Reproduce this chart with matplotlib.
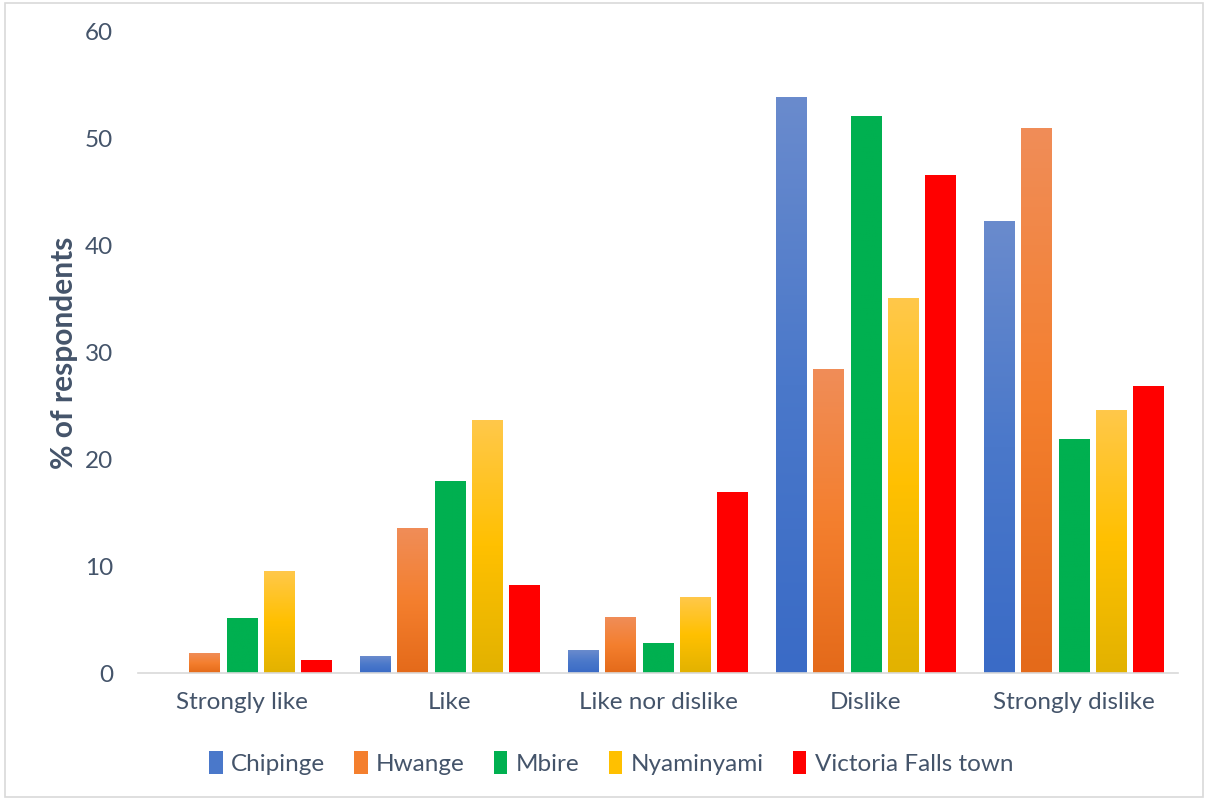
import numpy as np
import matplotlib
matplotlib.use("Agg")
import matplotlib.pyplot as plt
from matplotlib.colors import LinearSegmentedColormap
from matplotlib.patches import Rectangle, Patch

plt.rcParams['font.family'] = ['Lato', 'DejaVu Sans']

categories = ['Strongly like', 'Like', 'Like nor dislike', 'Dislike', 'Strongly dislike']
districts = ['Chipinge', 'Hwange', 'Mbire', 'Nyaminyami', 'Victoria Falls town']

chipinge = [0.0, 1.5, 2.1, 53.9, 42.3]
hwange = [1.8, 13.5, 5.2, 28.4, 51.0]
mbire = [5.1, 17.9, 2.8, 52.1, 21.9]
nyaminyami = [9.5, 23.6, 7.1, 35.1, 24.6]
victoria_falls = [1.2, 8.2, 16.9, 46.6, 26.8]
series = [chipinge, hwange, mbire, nyaminyami, victoria_falls]

# gradient stops, bottom -> middle -> top
fills = [
    ['#3a6bc6', '#4a78ca', '#6a8bcd'],
    ['#e46a1a', '#f47f2e', '#f08d58'],
    ['#00b050', '#00b050', '#00b050'],
    ['#e2b200', '#ffc000', '#ffc84a'],
    ['#ff0000', '#ff0000', '#ff0000'],
]
txt = '#44546a'

fig = plt.figure(figsize=(12.08, 8), dpi=100)
ax = fig.add_axes([138 / 1208, 1 - 673 / 800, 1040 / 1208, 641 / 800])

x = np.arange(len(categories))
step = 0.178
width = 0.149
grad = np.linspace(0, 1, 256).reshape(-1, 1)

handles = []
for i, (vals, cols) in enumerate(zip(series, fills)):
    cmap = LinearSegmentedColormap.from_list('g%d' % i, cols)
    for xc, v in zip(x, vals):
        left = xc + (i - 2) * step - width / 2
        if v <= 0:
            continue
        ax.imshow(grad, cmap=cmap, origin='lower', aspect='auto',
                  extent=[left, left + width, 0, v], zorder=2)
    handles.append(Patch(facecolor=cols[1], edgecolor='none', label=districts[i]))

ax.set_xlim(-0.5, 4.5)
ax.set_ylim(0, 60)
ax.set_yticks(range(0, 61, 10))
ax.set_xticks(x)
ax.set_xticklabels(categories)
ax.tick_params(axis='both', length=0, labelsize=17.5, colors=txt)
ax.tick_params(axis='y', pad=18)
ax.tick_params(axis='x', pad=14)
for s in ['top', 'right', 'left']:
    ax.spines[s].set_visible(False)
ax.spines['bottom'].set_color('#d9d9d9')
ax.spines['bottom'].set_linewidth(1.2)

ax.set_ylabel('% of respondents', fontsize=21.5, fontweight='bold', color=txt, labelpad=5)

leg = fig.legend(handles=handles, loc='center', bbox_to_anchor=(0.506, 1 - 763 / 800), ncol=5,
                 frameon=False, fontsize=17.5, handlelength=0.55, handleheight=1.1,
                 handletextpad=0.35, columnspacing=1.2)
for t in leg.get_texts():
    t.set_color(txt)

fig.patches.append(Rectangle((0.004, 0.004), 0.992, 0.992, transform=fig.transFigure,
                             fill=False, edgecolor='#d9d9d9', linewidth=1.2))

fig.savefig('out.png', dpi=100)
